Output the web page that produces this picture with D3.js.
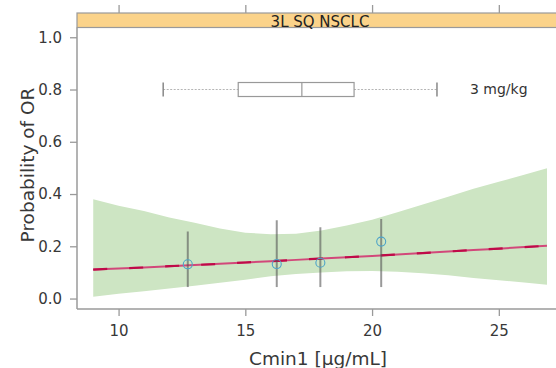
<!DOCTYPE html>
<html>
<head>
<meta charset="utf-8">
<script src="https://cdn.jsdelivr.net/npm/d3@7"></script>
<style>
  html, body { margin: 0; padding: 0; background: #fff; }
  svg { display: block; font-family: "DejaVu Sans", Verdana, sans-serif; }
</style>
</head>
<body>
<svg id="chart" width="556" height="368"></svg>
<script>
// ---- Data ----
const panelTitle = "3L SQ NSCLC";
const doseLabel = "3 mg/kg";
const xTicks = [10, 15, 20, 25];
const yTicks = [0.0, 0.2, 0.4, 0.6, 0.8, 1.0];

// model curve grid (Cmin1) with fitted probability and 95% band
const cminGrid = [9.0, 10, 11, 12, 13, 14, 15, 16, 17, 18, 19, 20, 21, 22, 23, 24, 25, 26, 26.9];
const fitProb  = [0.111, 0.115, 0.119, 0.124, 0.128, 0.133, 0.138, 0.143, 0.148, 0.153, 0.158, 0.163, 0.169, 0.174, 0.180, 0.186, 0.191, 0.197, 0.202];
const bandLow  = [0.007, 0.018, 0.028, 0.038, 0.049, 0.060, 0.072, 0.085, 0.094, 0.100, 0.104, 0.105, 0.103, 0.097, 0.089, 0.079, 0.070, 0.061, 0.053];
const bandHigh = [0.380, 0.355, 0.335, 0.310, 0.290, 0.268, 0.252, 0.246, 0.248, 0.260, 0.280, 0.302, 0.330, 0.360, 0.390, 0.420, 0.447, 0.474, 0.499];

// observed quartile-bin summaries
const obsCmin = [12.73, 16.24, 17.96, 20.36];
const obsProb = [0.131, 0.132, 0.137, 0.218];
const obsLow  = [0.044, 0.044, 0.044, 0.044];
const obsHigh = [0.257, 0.300, 0.273, 0.304];

// boxplot of exposure: min-whisker, Q1, median, Q3, max-whisker
const boxStats = [11.76, 14.72, 17.23, 19.29, 22.56];
const boxY = 0.8;

// ---- Layout ----
const svg = d3.select("#chart");
const panelLeft = 77, panelRight = 566, panelTop = 27.5, panelBottom = 309;
const stripTop = 13;

const x = d3.scaleLinear().domain([8.36, 27.65]).range([panelLeft, panelRight]);
const y = d3.scaleLinear().domain([-0.04, 1.04]).range([panelBottom, 26.8]);

const axisCol = "#9a9a9a";
const textCol = "#383838";

// clip to panel
svg.append("defs").append("clipPath").attr("id", "clip")
  .append("rect").attr("x", panelLeft).attr("y", panelTop)
  .attr("width", panelRight - panelLeft).attr("height", panelBottom - panelTop);

const g = svg.append("g").attr("clip-path", "url(#clip)");

// band
const bandData = cminGrid.map((c, i) => ({c, lo: bandLow[i], hi: bandHigh[i], f: fitProb[i]}));
g.append("path").datum(bandData)
  .attr("d", d3.area().x(d => x(d.c)).y0(d => y(d.lo)).y1(d => y(d.hi)))
  .attr("fill", "#cde5c3").attr("stroke", "none");

// fitted line
g.append("path").datum(bandData)
  .attr("d", d3.line().x(d => x(d.c)).y(d => y(d.f)))
  .attr("fill", "none").attr("stroke", "#d2487a").attr("stroke-width", 2);
g.append("path").datum(bandData)
  .attr("d", d3.line().x(d => x(d.c)).y(d => y(d.f)))
  .attr("fill", "none").attr("stroke", "#bf0a48").attr("stroke-width", 2.2)
  .attr("stroke-dasharray", "14,22");

// observed error bars
const obs = obsCmin.map((c, i) => ({c, p: obsProb[i], lo: obsLow[i], hi: obsHigh[i]}));
g.selectAll(".eb").data(obs).join("line")
  .attr("x1", d => x(d.c)).attr("x2", d => x(d.c))
  .attr("y1", d => y(d.lo)).attr("y2", d => y(d.hi))
  .attr("stroke", "#555").attr("stroke-opacity", 0.6).attr("stroke-width", 2);
g.selectAll(".pt").data(obs).join("circle")
  .attr("cx", d => x(d.c)).attr("cy", d => y(d.p)).attr("r", 4.5)
  .attr("fill", "none").attr("stroke", "#4da3c9").attr("stroke-width", 1.1);

// boxplot
const by = y(boxY), bh = 14;
const bx = g.append("g");
bx.append("line").attr("x1", x(boxStats[0])).attr("x2", x(boxStats[1]))
  .attr("y1", by).attr("y2", by).attr("stroke", "#b5b5b5").attr("stroke-dasharray", "2,1.5");
bx.append("line").attr("x1", x(boxStats[3])).attr("x2", x(boxStats[4]))
  .attr("y1", by).attr("y2", by).attr("stroke", "#b5b5b5").attr("stroke-dasharray", "2,1.5");
[boxStats[0], boxStats[4]].forEach(v => {
  bx.append("line").attr("x1", x(v)).attr("x2", x(v))
    .attr("y1", by - bh / 2).attr("y2", by + bh / 2)
    .attr("stroke", "#888").attr("stroke-width", 1.5);
});
bx.append("rect").attr("x", x(boxStats[1])).attr("y", by - bh / 2)
  .attr("width", x(boxStats[3]) - x(boxStats[1])).attr("height", bh)
  .attr("fill", "none").attr("stroke", "#999").attr("stroke-width", 1.2);
bx.append("line").attr("x1", x(boxStats[2])).attr("x2", x(boxStats[2]))
  .attr("y1", by - bh / 2).attr("y2", by + bh / 2)
  .attr("stroke", "#999").attr("stroke-width", 1.2);
g.append("text").attr("x", x(23.86)).attr("y", by).attr("dy", "0.35em")
  .attr("font-size", 14).attr("fill", "#333").text(doseLabel);

// panel border (left, bottom)
svg.append("line").attr("x1", panelLeft).attr("x2", panelLeft)
  .attr("y1", panelTop).attr("y2", panelBottom).attr("stroke", axisCol).attr("stroke-width", 1.5);
svg.append("line").attr("x1", panelLeft).attr("x2", panelRight)
  .attr("y1", panelBottom).attr("y2", panelBottom).attr("stroke", axisCol).attr("stroke-width", 1.5);

// strip
svg.append("rect").attr("x", panelLeft).attr("y", stripTop)
  .attr("width", panelRight - panelLeft).attr("height", panelTop - stripTop)
  .attr("fill", "#fbd38a").attr("stroke", axisCol).attr("stroke-width", 1.2);
svg.append("text").attr("x", 320).attr("y", 26.5)
  .attr("text-anchor", "middle").attr("font-size", 15).attr("fill", "#222")
  .text(panelTitle);

// axes
const xAxisB = svg.append("g").attr("transform", `translate(0,${panelBottom})`)
  .call(d3.axisBottom(x).tickValues(xTicks).tickSize(7).tickPadding(9).tickFormat(d3.format("d")));
const xAxisT = svg.append("g").attr("transform", `translate(0,${stripTop})`)
  .call(d3.axisTop(x).tickValues(xTicks).tickSize(8).tickFormat(""));
const yAxis = svg.append("g").attr("transform", `translate(${panelLeft},0)`)
  .call(d3.axisLeft(y).tickValues(yTicks).tickSize(7).tickPadding(8).tickFormat(d3.format(".1f")));
[xAxisB, xAxisT, yAxis].forEach(a => {
  a.select(".domain").remove();
  a.selectAll(".tick line").attr("stroke", axisCol).attr("stroke-width", 1.3);
  a.selectAll(".tick text").attr("font-size", 15).attr("fill", textCol)
    .attr("font-family", "DejaVu Sans, sans-serif");
});

// axis titles
svg.append("text").attr("x", 318).attr("y", 365)
  .attr("text-anchor", "middle").attr("font-size", 18.5).attr("fill", textCol)
  .text("Cmin1 [µg/mL]");
svg.append("text").attr("transform", "translate(34,165) rotate(-90)")
  .attr("text-anchor", "middle").attr("font-size", 18.5).attr("fill", textCol)
  .text("Probability of OR");
</script>
</body>
</html>
